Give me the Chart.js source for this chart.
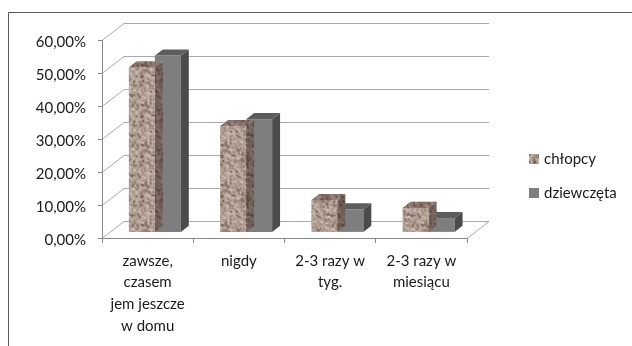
<!DOCTYPE html>
<html>
<head>
<meta charset="utf-8">
<script src="https://cdn.jsdelivr.net/npm/chart.js@4.4.1/dist/chart.umd.min.js"></script>
<style>
  html, body { margin: 0; padding: 0; background: #ffffff; }
  #wrap { width: 632px; height: 346px; position: relative; }
</style>
</head>
<body>
<div id="wrap"><canvas id="c" width="632" height="346"></canvas></div>
<script>
// Survey answers (share of respondents, %)
const categories = [
  ["zawsze,", "czasem", "jem jeszcze", "w domu"],
  ["nigdy"],
  ["2-3 razy w", "tyg."],
  ["2-3 razy w", "miesiącu"]
];
const seriesNames = ["chłopcy", "dziewczęta"];
const boysValues = [50.0, 32.2, 9.8, 7.4];
const girlsValues = [53.6, 34.3, 7.0, 4.3];
const yTicks = [0, 10, 20, 30, 40, 50, 60];

// Oblique 3D box: full depth of the walls, and where the bars sit inside it
const DEPTH = { x: 22, y: -17 };
const BAR_FRONT = 0.33;
const BAR_DEPTH = 0.36;

const canvas = document.getElementById('c');
const ctx = canvas.getContext('2d');

// Fine speckled granite fill for the first series (deterministic hash noise)
function granitePattern() {
  const size = 40;
  const c = document.createElement('canvas');
  c.width = c.height = size;
  const g = c.getContext('2d');
  g.fillStyle = '#ae9b90';
  g.fillRect(0, 0, size, size);
  const tones = ['#cbbdb2', '#8a7165', '#d8cdc3', '#6f574c', '#bba99d', '#9b8276', '#c4b4a8'];
  const hash = n => {
    const s = Math.sin(n * 127.1 + 311.7) * 43758.5453;
    return s - Math.floor(s);
  };
  for (let i = 0; i < 700; i++) {
    const x = hash(i * 3 + 1) * size;
    const y = hash(i * 3 + 2) * size;
    const r = 0.35 + hash(i * 3 + 3) * 0.8;
    g.fillStyle = tones[i % tones.length];
    for (const ox of [-size, 0, size]) {
      for (const oy of [-size, 0, size]) {
        g.beginPath();
        g.ellipse(x + ox, y + oy, r * 1.4, r, 0.7, 0, Math.PI * 2);
        g.fill();
      }
    }
  }
  return ctx.createPattern(c, 'repeat');
}
const granite = granitePattern();

const seriesStyle = [
  { front: granite, side: granite, sideShade: 'rgba(40,25,20,0.45)', top: granite, topShade: 'rgba(40,25,20,0.28)' },
  { front: '#7e7e7e', side: '#4b4b4b', sideShade: null, top: '#5d5d5d', topShade: null }
];

function fillPoly(pts, fill, shade) {
  ctx.beginPath();
  ctx.moveTo(pts[0][0], pts[0][1]);
  for (let i = 1; i < pts.length; i++) ctx.lineTo(pts[i][0], pts[i][1]);
  ctx.closePath();
  ctx.fillStyle = fill;
  ctx.fill();
  if (shade) { ctx.fillStyle = shade; ctx.fill(); }
}

function line(x1, y1, x2, y2) {
  ctx.beginPath();
  ctx.moveTo(x1, y1);
  ctx.lineTo(x2, y2);
  ctx.stroke();
}

// Back wall gridlines, side-wall diagonals and the floor edge
const wallsPlugin = {
  id: 'walls',
  beforeDatasetsDraw(chart) {
    const a = chart.chartArea;
    const ys = chart.scales.y;
    const c = chart.ctx;
    c.save();
    c.strokeStyle = '#a9a9a9';
    c.lineWidth = 1;
    ys.ticks.forEach(t => {
      const y = Math.round(ys.getPixelForValue(t.value)) + 0.5;
      line(a.left + DEPTH.x, y + DEPTH.y, a.right + DEPTH.x, y + DEPTH.y);
      line(a.left, y, a.left + DEPTH.x, y + DEPTH.y);
    });
    const y0 = Math.round(ys.getPixelForValue(0)) + 0.5;
    line(a.right, y0, a.right + DEPTH.x, y0 + DEPTH.y);
    c.restore();
  }
};

// Bars sit inside the box: shift them back, then add top and side faces
const bars3dPlugin = {
  id: 'bars3d',
  beforeDatasetDraw(chart) {
    chart.ctx.save();
    chart.ctx.translate(DEPTH.x * BAR_FRONT, DEPTH.y * BAR_FRONT);
  },
  afterDatasetDraw(chart, args) {
    const st = seriesStyle[args.index];
    const dx = DEPTH.x * BAR_DEPTH, dy = DEPTH.y * BAR_DEPTH;
    args.meta.data.forEach(bar => {
      const p = bar.getProps(['x', 'y', 'base', 'width'], true);
      const l = p.x - p.width / 2, r = p.x + p.width / 2;
      const top = Math.min(p.y, p.base), bot = Math.max(p.y, p.base);
      fillPoly([[r, top], [r + dx, top + dy], [r + dx, bot + dy], [r, bot]], st.side, st.sideShade);
      fillPoly([[l, top], [l + dx, top + dy], [r + dx, top + dy], [r, top]], st.top, st.topShade);
    });
    chart.ctx.restore();
  }
};

// Legend on the right and the outer frame
const legendFramePlugin = {
  id: 'legendFrame',
  afterDraw(chart) {
    const c = chart.ctx;
    c.save();
    c.font = '15px Lato';
    c.textBaseline = 'middle';
    c.textAlign = 'left';
    chart.data.datasets.forEach((ds, i) => {
      const y = 154 + i * 34;
      c.fillStyle = seriesStyle[i].front;
      c.fillRect(529, y, 10, 10);
      c.fillStyle = '#1a1a1a';
      c.fillText(ds.label, 544, y + 5);
    });
    c.strokeStyle = '#5a5a5a';
    c.lineWidth = 1;
    c.beginPath();
    c.moveTo(8.5, 346);
    c.lineTo(8.5, 12.5);
    c.lineTo(632, 12.5);
    c.stroke();
    c.restore();
  }
};

const fmt = v => v.toFixed(2).replace('.', ',') + '%';

new Chart(ctx, {
  type: 'bar',
  data: {
    labels: categories,
    datasets: [
      { label: seriesNames[0], data: boysValues, backgroundColor: seriesStyle[0].front },
      { label: seriesNames[1], data: girlsValues, backgroundColor: seriesStyle[1].front }
    ]
  },
  options: {
    responsive: false,
    animation: false,
    devicePixelRatio: 1,
    layout: { padding: { left: 0, top: 40, right: 165, bottom: 0 } },
    datasets: { bar: { categoryPercentage: 0.57, barPercentage: 1.0, borderWidth: 0, clip: false } },
    plugins: { legend: { display: false }, tooltip: { enabled: false } },
    scales: {
      x: {
        grid: { display: true, drawOnChartArea: false, drawTicks: true, tickLength: 5, color: '#868686' },
        border: { display: true, color: '#868686' },
        ticks: {
          color: '#1a1a1a', padding: 7, maxRotation: 0, autoSkip: false,
          font: { family: 'Lato', size: 15, lineHeight: 1.45 }
        },
        afterFit: s => { s.height = 108; }
      },
      y: {
        min: 0, max: 60,
        afterBuildTicks: s => { s.ticks = yTicks.map(v => ({ value: v })); },
        grid: { display: true, drawOnChartArea: false, drawTicks: true, tickLength: 4, color: '#868686' },
        border: { display: true, color: '#868686' },
        ticks: {
          color: '#1a1a1a', padding: 12, labelOffset: 2,
          font: { family: 'Lato', size: 15 },
          callback: v => fmt(v)
        },
        afterFit: s => { s.width = 102; }
      }
    }
  },
  plugins: [wallsPlugin, bars3dPlugin, legendFramePlugin]
});
</script>
</body>
</html>
